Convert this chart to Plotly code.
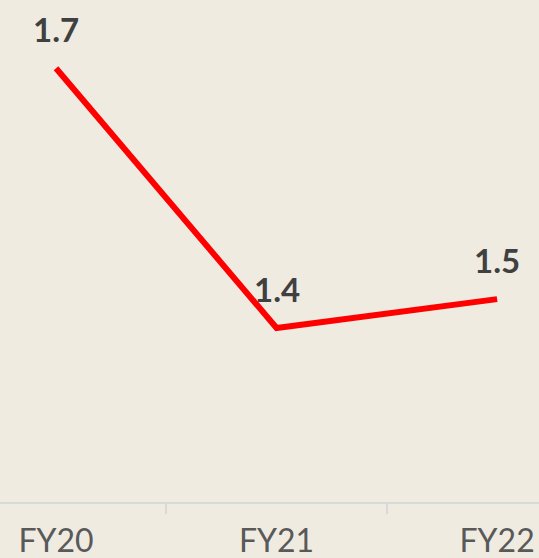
import plotly.graph_objects as go

# Fiscal years and values
categories = ["FY20", "FY21", "FY22"]
values = [1.71, 1.44, 1.47]

BG = "#EFEBE1"
LINE_RED = "#FF0000"
LABEL_DARK = "#404040"
AXIS_TEXT = "#595959"
AXIS_LINE = "#D9D9D9"
FONT = "Lato"

fig = go.Figure()
fig.add_trace(go.Scatter(
    x=categories,
    y=values,
    mode="lines",
    line=dict(color=LINE_RED, width=6),
    hoverinfo="skip",
    showlegend=False,
))

# Value labels above each point
for cat, val in zip(categories, values):
    fig.add_annotation(
        x=cat, y=val, text=f"{val:.1f}",
        showarrow=False, yshift=39,
        font=dict(family=FONT, size=33, color=LABEL_DARK, weight="bold"),
    )

fig.update_layout(
    width=539, height=558,
    margin=dict(l=0, r=0, t=0, b=56),
    paper_bgcolor=BG, plot_bgcolor=BG,
    xaxis=dict(
        type="category",
        range=[-0.254, 2.19],
        automargin=False,
        showline=True, linecolor=AXIS_LINE, linewidth=2,
        ticks="outside", tickson="boundaries", ticklen=10,
        tickcolor=AXIS_LINE, tickwidth=1.5,
        showgrid=False, zeroline=False,
        ticklabelstandoff=10,
        tickfont=dict(family=FONT, size=32, color=AXIS_TEXT),
    ),
    yaxis=dict(
        range=[1.2591, 1.781],
        visible=False, showgrid=False, zeroline=False,
    ),
)

fig.write_html("out.html")
